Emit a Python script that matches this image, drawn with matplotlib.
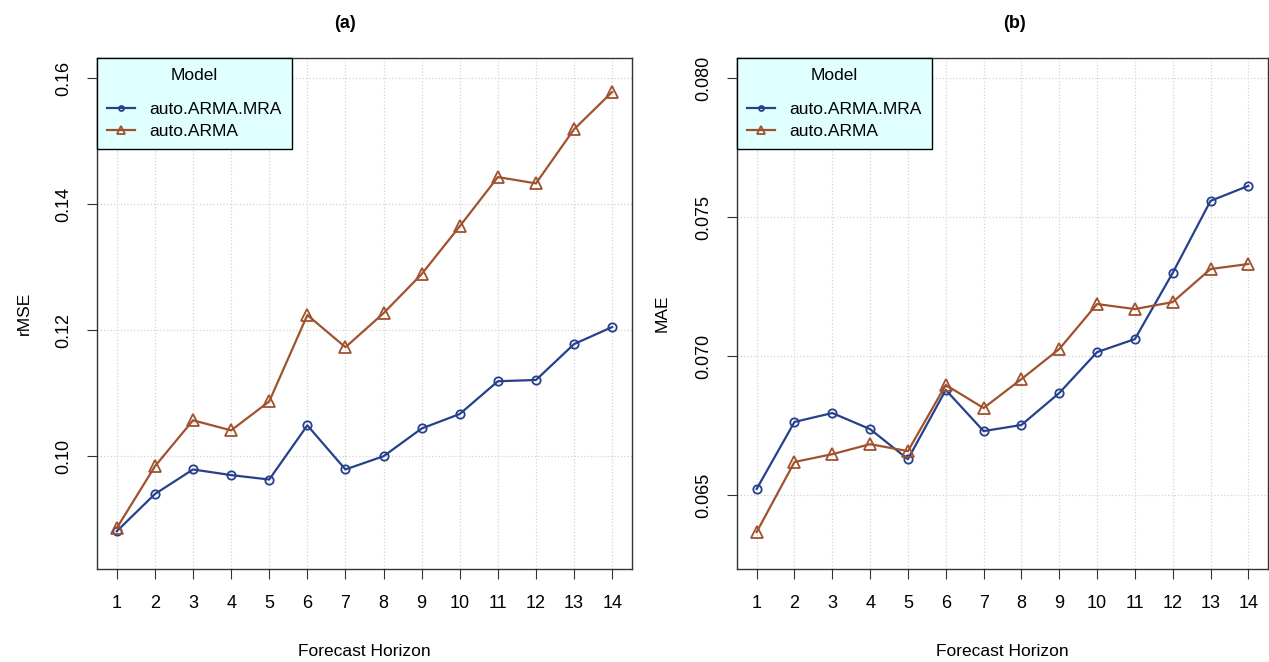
import matplotlib
matplotlib.use("Agg")
import matplotlib.pyplot as plt

plt.rcParams['font.family'] = ['Liberation Sans', 'DejaVu Sans']

horizon = list(range(1, 15))

# panel (a): rMSE
rmse_mra = [0.0881, 0.0940, 0.0979, 0.0970, 0.0963, 0.1049, 0.0979,
            0.1000, 0.1044, 0.1067, 0.1119, 0.1121, 0.1178, 0.1205]
rmse_arma = [0.0886, 0.0984, 0.1057, 0.1041, 0.1087, 0.1224, 0.1173,
             0.1227, 0.1289, 0.1365, 0.1443, 0.1433, 0.1519, 0.1578]

# panel (b): MAE
mae_mra = [0.06522, 0.06763, 0.06795, 0.06737, 0.06629, 0.06878, 0.06730,
           0.06752, 0.06867, 0.07014, 0.07061, 0.07299, 0.07558, 0.07612]
mae_arma = [0.06367, 0.06619, 0.06647, 0.06683, 0.06658, 0.06896, 0.06813,
            0.06917, 0.07025, 0.07187, 0.07169, 0.07194, 0.07313, 0.07331]

rmse_ticks = [0.10, 0.12, 0.14, 0.16]
mae_ticks = [0.065, 0.070, 0.075, 0.080]

blue = "#27408B"
brown = "#A0522D"

fig = plt.figure(figsize=(12.69, 6.62), dpi=100)
ax1 = fig.add_axes([97/1269, 1-569/662, 535/1269, 511/662])
ax2 = fig.add_axes([737/1269, 1-569/662, 531/1269, 511/662])


def draw(ax, mra, arma, yticks, ylim, fmt, ylabel):
    ax.plot(horizon, mra, color=blue, lw=1.6, marker='o', ms=6,
            mfc='none', mew=1.3, label='auto.ARMA.MRA')
    ax.plot(horizon, arma, color=brown, lw=1.6, marker='^', ms=9,
            mfc='none', mew=1.3, label='auto.ARMA')
    ax.set_xlim(0.48, 14.52)
    ax.set_ylim(*ylim)
    ax.set_xticks(horizon)
    ax.set_yticks(yticks)
    ax.set_yticklabels([fmt % v for v in yticks], rotation=90, va='center')
    ax.grid(True, color='#d3d3d3', ls=':', lw=0.9)
    ax.tick_params(axis='both', length=7, labelsize=13, color='#333333')
    ax.tick_params(axis='y', pad=11)
    ax.tick_params(axis='x', pad=12)
    for s in ax.spines.values():
        s.set_color('#333333')
        s.set_linewidth(1.0)
    ax.set_xlabel('Forecast Horizon', fontsize=12.5)
    ax.set_ylabel(ylabel, fontsize=12.5)
    ax.xaxis.set_label_coords(0.5, -0.147)
    leg = ax.legend(title='Model', loc='upper left', borderaxespad=0,
                    fancybox=False, framealpha=1, fontsize=12.5,
                    title_fontsize=12.5, handlelength=1.6,
                    handletextpad=0.8, markerscale=0.6,
                    labelspacing=0.4, borderpad=0.6)
    leg._legend_box.sep = 13
    leg.get_frame().set_facecolor('#E0FFFF')
    leg.get_frame().set_edgecolor('black')


draw(ax1, rmse_mra, rmse_arma, rmse_ticks, (0.0821, 0.1632), '%.2f', 'rMSE')
draw(ax2, mae_mra, mae_arma, mae_ticks, (0.06234, 0.08072), '%.3f', 'MAE')
ax1.yaxis.set_label_coords(-0.1215, 0.5)
ax2.yaxis.set_label_coords(-0.126, 0.5)

fig.text(345/1269, 1-24/662, '(a)', ha='center', va='center',
         fontsize=13, fontweight='bold')
fig.text(1015/1269, 1-24/662, '(b)', ha='center', va='center',
         fontsize=13, fontweight='bold')

fig.savefig('out.png', dpi=100)
